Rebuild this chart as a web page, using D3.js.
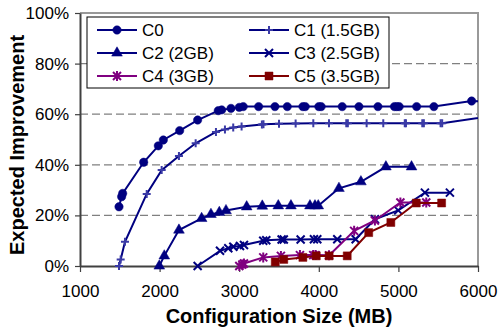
<!DOCTYPE html>
<html>
<head>
<meta charset="utf-8">
<script src="https://cdn.jsdelivr.net/npm/d3@7"></script>
<style>
  body { margin: 0; background: #fff; }
  text { font-family: "Liberation Sans", Arial, sans-serif; }
</style>
</head>
<body>
<div id="chart"></div>
<script>
// data (MB, percent)
var c0Size = [1490, 1523, 1536, 1800, 1984, 2047, 2252, 2478, 2737, 2780, 2897, 3001, 3051, 3244, 3449, 3604, 3800, 3830, 4000, 4030, 4294, 4504, 4743, 4950, 4980, 5010, 5229, 5446, 5920, 6300];
var c0Val  = [23.4, 27.4, 28.7, 41, 47.5, 49.8, 53.5, 57.7, 61.4, 61.7, 62.3, 62.7, 63, 63, 63, 63, 63, 63, 63, 63, 63, 63, 63, 63, 63, 63, 63, 63, 65.2, 64.8];

var c1Size = [1490, 1511, 1565, 1838, 2026, 2243, 2453, 2708, 2821, 2925, 3030, 3285, 3305, 3500, 3709, 3931, 4128, 4345, 4365, 4601, 4810, 5080, 5095, 5300, 5320, 5530, 5550, 6400];
var c1Val  = [0, 2.6, 9.6, 28.5, 37.9, 43.5, 48.5, 53, 54, 54.7, 55.1, 55.9, 56, 56.2, 56.3, 56.4, 56.4, 56.4, 56.4, 56.4, 56.4, 56.4, 56.4, 56.4, 56.4, 56.4, 56.4, 60.3];

var c2Size = [1996, 2059, 2243, 2528, 2645, 2750, 2834, 3094, 3290, 3491, 3650, 3889, 3952, 3993, 4253, 4529, 4843, 5165];
var c2Val  = [0, 4, 14.2, 18.8, 20.4, 21.2, 21.9, 23.4, 23.7, 23.8, 23.8, 23.8, 23.8, 23.8, 30.7, 33.3, 39.2, 39.2];

var c3Size = [2478, 2759, 2863, 2926, 3010, 3060, 3302, 3340, 3533, 3560, 3772, 3939, 3981, 4232, 4463, 4705, 4998, 5333, 5647];
var c3Val  = [0, 6, 7, 7.6, 7.9, 8.3, 10, 10.2, 10.5, 10.5, 10.5, 10.6, 10.6, 10.6, 10.6, 18.5, 22, 29, 29];

var c4Size = [3001, 3040, 3060, 3302, 3524, 3763, 3930, 3960, 4128, 4444, 4705, 5025, 5350];
var c4Val  = [0, 0.6, 1, 3.4, 4, 4.3, 4.3, 4.3, 4.2, 13.9, 18, 25.1, 25.1];

var c5Size = [3453, 3560, 3800, 3968, 4130, 4357, 4627, 4905, 5225, 5543];
var c5Val  = [1.6, 2.6, 3.4, 4, 4, 4, 13.2, 17.2, 24.9, 24.9];

var seriesNames = ["C0", "C1 (1.5GB)", "C2 (2GB)", "C3 (2.5GB)", "C4 (3GB)", "C5 (3.5GB)"];
var xTicks = [1000, 2000, 3000, 4000, 5000, 6000];
var yTicks = [0, 20, 40, 60, 80, 100];

var series = [
  {name: seriesNames[0], size: c0Size, val: c0Val, line: "#000080", mark: "#000080", shape: "circle"},
  {name: seriesNames[1], size: c1Size, val: c1Val, line: "#000080", mark: "#3a3aa6", shape: "plus"},
  {name: seriesNames[2], size: c2Size, val: c2Val, line: "#000080", mark: "#000080", shape: "triangle"},
  {name: seriesNames[3], size: c3Size, val: c3Val, line: "#000080", mark: "#000080", shape: "x"},
  {name: seriesNames[4], size: c4Size, val: c4Val, line: "#800080", mark: "#800080", shape: "star"},
  {name: seriesNames[5], size: c5Size, val: c5Val, line: "#800000", mark: "#800000", shape: "square"}
];

// plot box
var W = 498, H = 331;
var plotL = 80, plotR = 478, plotT = 13, plotB = 266;

var x = d3.scaleLinear().domain([1000, 6000]).range([plotL, plotR]);
var y = d3.scaleLinear().domain([0, 100]).range([plotB, plotT]);

var svg = d3.select("#chart").append("svg")
    .attr("width", W)
    .attr("height", H);

svg.append("defs").append("clipPath")
    .attr("id", "plot")
  .append("rect")
    .attr("x", plotL).attr("y", plotT - 6)
    .attr("width", plotR - plotL).attr("height", plotB - plotT + 12);

// dashed grid lines
svg.selectAll(".grid")
    .data(yTicks.filter(function(d) { return d > 0 && d < 100; }))
  .enter().append("line")
    .attr("x1", plotL).attr("x2", plotR)
    .attr("y1", function(d) { return y(d); })
    .attr("y2", function(d) { return y(d); })
    .attr("stroke", "#808080")
    .attr("stroke-width", 1.2)
    .attr("stroke-dasharray", "8,4");

// top and right border
svg.append("path")
    .attr("d", "M" + plotL + "," + y(100) + "H" + plotR + "V" + plotB)
    .attr("fill", "none")
    .attr("stroke", "#999")
    .attr("stroke-width", 2);

// axes
var xAxis = svg.append("g")
    .attr("transform", "translate(0," + plotB + ")")
    .call(d3.axisBottom(x).tickValues(xTicks).tickSizeInner(6).tickSizeOuter(0).tickPadding(13)
        .tickFormat(d3.format("d")));

var yAxis = svg.append("g")
    .attr("transform", "translate(" + plotL + ",0)")
    .call(d3.axisLeft(y).tickValues(yTicks).tickSizeInner(5).tickSizeOuter(0).tickPadding(6)
        .tickFormat(function(d) { return d + "%"; }));

[xAxis, yAxis].forEach(function(g) {
  g.select(".domain").attr("stroke", "#404040").attr("stroke-width", 2);
  g.selectAll(".tick line").attr("stroke", "#404040").attr("stroke-width", 1.2);
  g.selectAll(".tick text")
      .attr("fill", "#000")
      .style("font-size", "17px")
      .style("font-family", "'Liberation Sans', Arial, sans-serif");
});

// marker shapes
function markerPath(shape) {
  if (shape === "circle") return d3.symbol(d3.symbolCircle, 55)();
  if (shape === "triangle") return d3.symbol(d3.symbolTriangle, 50)();
  if (shape === "square") return "M-4,-4H4V4H-4Z";
  if (shape === "plus") return "M-4,0H4M0,-4V4";
  if (shape === "x") return "M-4,-4L4,4M-4,4L4,-4";
  return "M-4,-4L4,4M-4,4L4,-4M0,-5V5";
}

function isFilled(shape) {
  return shape === "circle" || shape === "triangle" || shape === "square";
}

var valueline = d3.line()
    .x(function(d) { return x(d[0]); })
    .y(function(d) { return y(d[1]); });

var plot = svg.append("g").attr("clip-path", "url(#plot)");

series.forEach(function(s) {
  var pts = s.size.map(function(v, i) { return [v, s.val[i]]; });

  plot.append("path")
      .datum(pts)
      .attr("d", valueline)
      .attr("fill", "none")
      .attr("stroke", s.line)
      .attr("stroke-width", 2);

  plot.selectAll(null)
      .data(pts)
    .enter().append("path")
      .attr("transform", function(d) { return "translate(" + x(d[0]) + "," + y(d[1]) + ")"; })
      .attr("d", markerPath(s.shape))
      .attr("fill", isFilled(s.shape) ? s.mark : "none")
      .attr("stroke", s.mark)
      .attr("stroke-width", isFilled(s.shape) ? 0.5 : 2);
});

// legend
var legend = svg.append("g");
legend.append("rect")
    .attr("x", 87).attr("y", 17)
    .attr("width", 302).attr("height", 71)
    .attr("fill", "#fff")
    .attr("stroke", "#000")
    .attr("stroke-width", 1);

series.forEach(function(s, i) {
  var col = i % 2, row = Math.floor(i / 2);
  var lx = col === 0 ? 97 : 249;
  var ly = 30 + row * 23;
  var item = legend.append("g");
  item.append("line")
      .attr("x1", lx).attr("x2", lx + 40)
      .attr("y1", ly).attr("y2", ly)
      .attr("stroke", s.line)
      .attr("stroke-width", 2);
  item.append("path")
      .attr("transform", "translate(" + (lx + 20) + "," + ly + ")")
      .attr("d", markerPath(s.shape))
      .attr("fill", isFilled(s.shape) ? s.mark : "none")
      .attr("stroke", s.mark)
      .attr("stroke-width", isFilled(s.shape) ? 0.5 : 2);
  item.append("text")
      .attr("x", lx + 45)
      .attr("y", ly)
      .attr("dy", "0.36em")
      .style("font-size", "17px")
      .text(s.name);
});

// axis titles
svg.append("text")
    .attr("x", (plotL + plotR) / 2)
    .attr("y", 323)
    .attr("text-anchor", "middle")
    .style("font-size", "20px")
    .style("font-weight", "bold")
    .text("Configuration Size (MB)");

svg.append("text")
    .attr("transform", "rotate(-90)")
    .attr("x", -145)
    .attr("y", 24)
    .attr("text-anchor", "middle")
    .style("font-size", "20px")
    .style("font-weight", "bold")
    .text("Expected Improvement");
</script>
</body>
</html>
